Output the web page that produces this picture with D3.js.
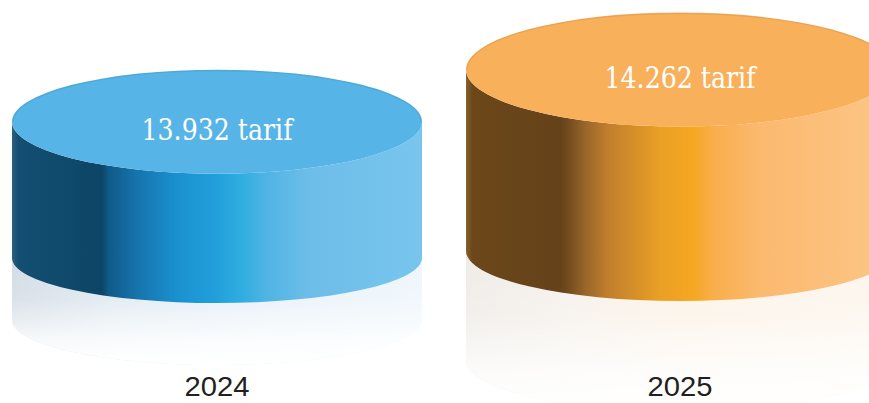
<!DOCTYPE html>
<html>
<head>
<meta charset="utf-8">
<script src="https://cdn.jsdelivr.net/npm/d3@7"></script>
<style>
html,body{margin:0;padding:0;background:#fff;}
svg{display:block;}
</style>
</head>
<body>
<svg id="chart" width="869" height="403"></svg>
<script>
// ---- data ----
const years = ["2024", "2025"];
const values = [13932, 14262];
const valueLabels = ["13.932 tarif", "14.262 tarif"];

// ---- layout / style (not data) ----
const rxs = [205, 214];
const baseYs = [258, 251];
const ryTops = [52, 57];
const ryBots = [45, 50];
const reflHs = [62, 110];
const topColors = ["#56b4e6", "#f9b05b"];
const sideStops = [
  [[0,"#2b5f80"],[0.015,"#134f72"],[0.22,"#0c4566"],[0.235,"#0f5a88"],[0.3,"#1672ab"],[0.4,"#1a90cf"],[0.5,"#22a0db"],[0.56,"#30ade0"],[0.62,"#4fb4e4"],[0.72,"#6dbde9"],[1,"#78c6ee"]],
  [[0,"#86622e"],[0.015,"#6b4719"],[0.22,"#65421a"],[0.235,"#6e4a1d"],[0.28,"#9a662a"],[0.33,"#c07e2e"],[0.45,"#e99e25"],[0.53,"#f6a722"],[0.58,"#f9ae4c"],[0.68,"#fbb96e"],[0.85,"#fcc07c"],[1,"#fdc585"]]
];
const reflStops = [
  [[0,"#d2dbe4"],[0.25,"#dfe9f1"],[0.5,"#e5eff7"],[1,"#eef6fb"]],
  [[0,"#efebe7"],[0.25,"#f6f1eb"],[0.5,"#fcf3e8"],[1,"#fdf6ee"]]
];

const svg = d3.select("#chart");
const defs = svg.append("defs");

const x = d3.scalePoint().domain(years).range([217, 680]);
const h = d3.scaleLinear().domain([13000, 14500]).range([9, 214]);

years.forEach((yr, i) => {
  const sg = defs.append("linearGradient").attr("id", "side" + i)
    .attr("x1", 0).attr("y1", 0).attr("x2", 1).attr("y2", 0);
  sideStops[i].forEach(s => sg.append("stop").attr("offset", s[0]).attr("stop-color", s[1]));
  const rg = defs.append("linearGradient").attr("id", "refl" + i)
    .attr("x1", 0).attr("y1", 0).attr("x2", 1).attr("y2", 0);
  reflStops[i].forEach(s => rg.append("stop").attr("offset", s[0]).attr("stop-color", s[1]));
});
const fade = defs.append("linearGradient").attr("id", "fade")
  .attr("x1", 0).attr("y1", 0).attr("x2", 0).attr("y2", 1);
fade.append("stop").attr("offset", 0).attr("stop-color", "#fff").attr("stop-opacity", 0);
fade.append("stop").attr("offset", 0.4).attr("stop-color", "#fff").attr("stop-opacity", 0.2);
fade.append("stop").attr("offset", 0.75).attr("stop-color", "#fff").attr("stop-opacity", 0.8);
fade.append("stop").attr("offset", 1).attr("stop-color", "#fff").attr("stop-opacity", 1);

const data = years.map((yr, i) => ({
  yr, v: values[i], label: valueLabels[i], i,
  cx: x(yr), rx: rxs[i], base: baseYs[i], top: baseYs[i] - h(values[i]),
  ryT: ryTops[i], ryB: ryBots[i], rh: reflHs[i]
}));

const g = svg.selectAll("g.cyl").data(data).join("g").attr("class", "cyl");

// reflection
const reflPath = d => {
  const l = d.cx - d.rx, r = d.cx + d.rx;
  return `M${l},${d.base} L${l},${d.base + d.rh} A${d.rx},${d.ryB} 0 0 0 ${r},${d.base + d.rh} L${r},${d.base} Z`;
};
g.append("path").attr("d", reflPath).attr("fill", d => `url(#refl${d.i})`);
g.append("path").attr("d", reflPath).attr("fill", "url(#fade)");

// side
g.append("path")
  .attr("d", d => {
    const l = d.cx - d.rx, r = d.cx + d.rx;
    return `M${l},${d.top} L${l},${d.base} A${d.rx},${d.ryB} 0 0 0 ${r},${d.base} L${r},${d.top} A${d.rx},${d.ryT} 0 0 1 ${l},${d.top} Z`;
  })
  .attr("fill", d => `url(#side${d.i})`);

// top
g.append("ellipse")
  .attr("cx", d => d.cx).attr("cy", d => d.top)
  .attr("rx", d => d.rx).attr("ry", d => d.ryT)
  .attr("fill", d => topColors[d.i]);
g.append("path")
  .attr("d", d => `M${d.cx - d.rx + 1},${d.top} A${d.rx - 1},${d.ryT - 1} 0 0 1 ${d.cx + d.rx - 1},${d.top}`)
  .attr("fill", "none").attr("stroke", "rgba(0,0,0,0.07)").attr("stroke-width", 1.2);

// value labels
g.append("text")
  .attr("x", d => d.cx).attr("y", d => d.top + 18)
  .attr("text-anchor", "middle")
  .attr("font-family", "'DejaVu Serif', 'Liberation Serif', serif")
  .attr("font-stretch", "condensed")
  .attr("font-size", 30)
  .attr("fill", "#fff")
  .attr("textLength", 151).attr("lengthAdjust", "spacingAndGlyphs")
  .text(d => d.label);

// year labels
g.append("text")
  .attr("x", d => d.cx).attr("y", 396)
  .attr("text-anchor", "middle")
  .attr("font-family", "'Liberation Sans', Arial, sans-serif")
  .attr("font-size", 28)
  .attr("fill", "#231f20")
  .attr("textLength", 65).attr("lengthAdjust", "spacingAndGlyphs")
  .text(d => d.yr);
</script>
</body>
</html>
